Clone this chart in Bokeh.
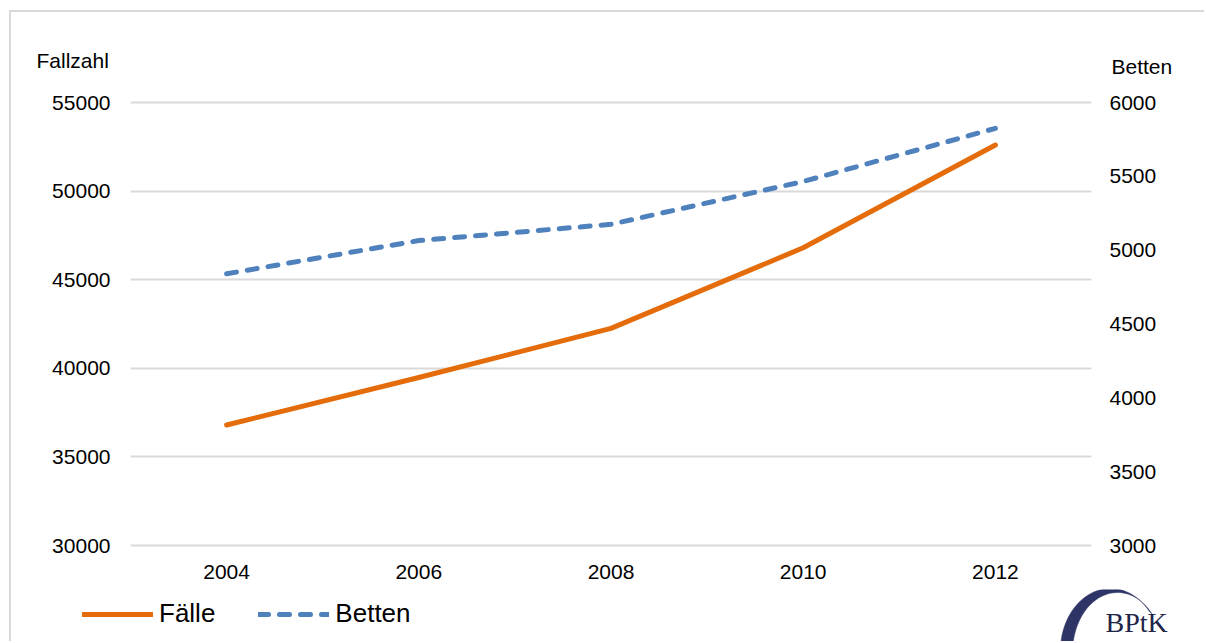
import numpy as np
from bokeh.plotting import figure
from bokeh.layouts import column, row
from bokeh.models import (Range1d, LinearAxis, FixedTicker, Label, Legend,
                          LegendItem, NumeralTickFormatter)
from bokeh.embed import file_html
from bokeh.resources import INLINE

years = [2004, 2006, 2008, 2010, 2012]
faelle = [36800, 39480, 42250, 46800, 52600]
betten = [4840, 5065, 5175, 5465, 5825]
left_ticks = [30000, 35000, 40000, 45000, 50000, 55000]
right_ticks = [3000, 3500, 4000, 4500, 5000, 5500, 6000]

FONT = "Liberation Sans"
FS = "21px"
ORANGE = "#E46C0A"
BLUE = "#4F81BD"
W = 1193

pad_l = 4 / 443 * 25000
pad_r = 4 / 443 * 3000

# ---------- main chart ----------
p = figure(width=W, height=497,
           x_range=Range1d(2003, 2013),
           y_range=Range1d(30000 - pad_l, 55000 + pad_l),
           output_backend="svg", toolbar_location=None,
           min_border_left=119, min_border_right=113,
           min_border_top=6, min_border_bottom=40)
p.extra_y_ranges = {"betten": Range1d(3000 - pad_r, 6000 + pad_r)}
p.outline_line_color = None

p.xgrid.visible = False
p.ygrid.ticker = FixedTicker(ticks=left_ticks)
p.ygrid.grid_line_color = "#d9d9d9"
p.ygrid.grid_line_width = 2

def style_axis(ax, standoff):
    ax.axis_line_color = None
    ax.major_tick_line_color = None
    ax.minor_tick_line_color = None
    ax.major_tick_out = 0
    ax.major_tick_in = 0
    ax.major_label_text_font = FONT
    ax.major_label_text_font_size = FS
    ax.major_label_text_color = "#000000"
    ax.major_label_standoff = standoff

p.xaxis.ticker = FixedTicker(ticks=years)
style_axis(p.xaxis[0], 15)
p.yaxis.ticker = FixedTicker(ticks=left_ticks)
p.yaxis.formatter = NumeralTickFormatter(format="0")
style_axis(p.yaxis[0], 20)

ax_r = LinearAxis(y_range_name="betten", ticker=FixedTicker(ticks=right_ticks),
                  formatter=NumeralTickFormatter(format="0"))
style_axis(ax_r, 18)
p.add_layout(ax_r, "right")

p.line(years, faelle, line_color=ORANGE, line_width=5,
       line_cap="round", line_join="round")
p.line(years, betten, y_range_name="betten", line_color=BLUE,
       line_width=5, line_dash="10 11", line_cap="round", line_join="round")

# ---------- helper for text strips ----------
def strip(h):
    f = figure(width=W, height=h, x_range=Range1d(0, W), y_range=Range1d(0, h),
               output_backend="svg", toolbar_location=None, min_border=0,
               x_axis_type=None, y_axis_type=None)
    for g in f.grid:
        g.visible = False
    f.outline_line_color = None
    return f

# header with axis titles
head = strip(80)
head.add_layout(Label(x=25, y=32, text="Fallzahl", text_font=FONT, text_font_size=FS,
                      text_color="#000000", text_baseline="middle", text_align="left"))
head.add_layout(Label(x=1100, y=26, text="Betten", text_font=FONT, text_font_size=FS,
                      text_color="#000000", text_baseline="middle", text_align="left"))

# footer with legend and logo (series lines lie outside this strip's ranges)
foot = strip(52)
l1 = foot.line(years, faelle, line_color=ORANGE, line_width=5, line_cap="round")
l2 = foot.line(years, betten, line_color=BLUE, line_width=5, line_dash="10 11",
               line_cap="round")
legend = Legend(items=[LegendItem(label="Fälle", renderers=[l1]),
                       LegendItem(label="Betten", renderers=[l2])],
                orientation="horizontal", location=(71, 12),
                glyph_width=71, glyph_height=30, label_height=30,
                label_text_font=FONT, label_text_font_size="26px",
                label_text_color="#000000",
                label_standoff=6, spacing=43, padding=0, margin=0,
                border_line_alpha=0, background_fill_alpha=0)
foot.add_layout(legend)

th = np.linspace(np.radians(40), np.pi, 40)
ox = 1110 + 50 * np.cos(th); oy = 650 - 62 * np.sin(th)
ix = 1117 + 45 * np.cos(th[::-1]); iy = 652 - 60 * np.sin(th[::-1])
foot.patch(np.concatenate([ox, ix]) - 11, 641 - np.concatenate([oy, iy]),
           fill_color="#2e3566", line_color="#2e3566", line_width=0.5)
foot.add_layout(Label(x=1094, y=19, text="BPtK", text_font="Liberation Serif",
                      text_font_size="28px", text_color="#1f2548",
                      text_baseline="middle", text_align="left"))

layout = column(row(head), p, row(foot), spacing=0)
layout.styles = {"border-top": "2px solid #d9d9d9", "border-left": "2px solid #d9d9d9",
                 "margin-left": "9px", "margin-top": "10px"}

open("out.html", "w").write(file_html(layout, INLINE))
